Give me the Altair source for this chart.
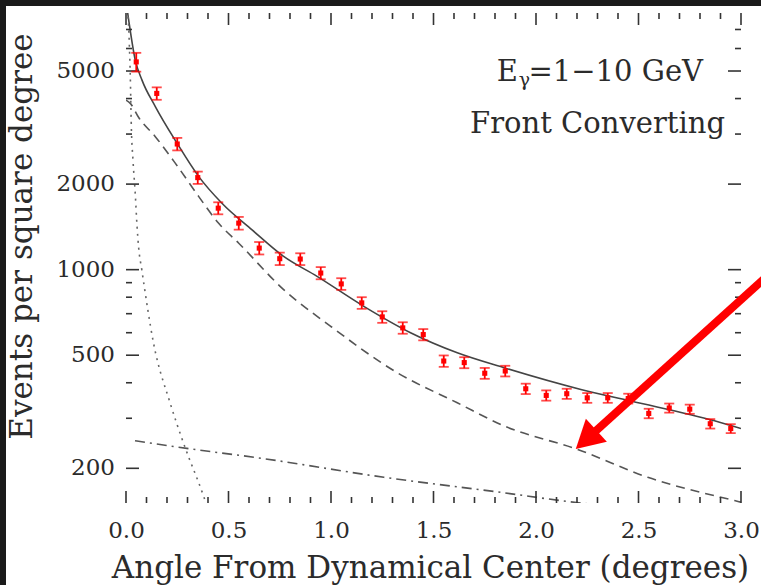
import altair as alt
import pandas as pd

# ---------------- data ----------------
pt_x = [0.05, 0.15, 0.25, 0.35, 0.45, 0.55, 0.65, 0.75, 0.85, 0.95,
        1.05, 1.15, 1.25, 1.35, 1.45, 1.55, 1.65, 1.75, 1.85, 1.95,
        2.05, 2.15, 2.25, 2.35, 2.45, 2.55, 2.65, 2.75, 2.85, 2.95]
pt_y = [5383, 4170, 2768, 2108, 1646, 1458, 1191, 1093, 1090, 973,
        891, 764, 682, 624, 591, 477, 471, 432, 440, 381,
        361, 366, 354, 354, 352, 312, 326, 323, 287, 276]
pt_err = [410, 210, 140, 105, 80, 75, 60, 55, 52, 48,
          42, 36, 32, 29, 27, 22, 21, 19, 19, 16,
          15, 15, 14, 14, 14, 12, 12, 12, 11, 10]

total_x = [0.005, 0.013, 0.045, 0.078, 0.143, 0.249, 0.355, 0.468, 0.615, 0.769,
           0.932, 1.16, 1.388, 1.616, 1.844, 2.219, 2.463, 2.871, 3.0]
total_y = [8300, 7570, 5470, 4645, 3750, 2786, 2125, 1713, 1380, 1113,
           947, 743, 600, 510, 452, 379, 345, 294, 276]

dash_x = [0.0, 0.021, 0.062, 0.143, 0.241, 0.355, 0.452, 0.55, 0.769, 0.997,
          1.323, 1.616, 1.844, 2.203, 2.545, 2.968, 3.0]
dash_y = [3950, 3846, 3430, 2938, 2366, 1807, 1456, 1239, 851, 633,
          434, 340, 282, 233, 186, 154, 152]

dot_x = [0.005, 0.013, 0.016, 0.021, 0.026, 0.034, 0.045, 0.054, 0.062, 0.077,
         0.134, 0.215, 0.28, 0.378, 0.39]
dot_y = [8200, 7160, 6270, 4775, 3186, 2433, 1857, 1416, 1189, 1000,
         553, 340, 246, 160, 151]

dashdot_x = [0.044, 0.297, 0.639, 1.258, 1.844, 2.15, 2.25]
dashdot_y = [250, 235, 218, 186, 164, 153, 150]

x_major = [0.0, 0.5, 1.0, 1.5, 2.0, 2.5, 3.0]
x_minor = [0.1, 0.2, 0.3, 0.4, 0.6, 0.7, 0.8, 0.9, 1.1, 1.2, 1.3, 1.4,
           1.6, 1.7, 1.8, 1.9, 2.1, 2.2, 2.3, 2.4, 2.6, 2.7, 2.8, 2.9]
y_major = [200, 500, 1000, 2000, 5000]
y_major_labels = ["200", "500", "1000", "2000", "5000"]
y_minor = [300, 400, 600, 700, 800, 900, 3000, 4000, 6000, 7000]

arrow_line_x = [3.15, 2.267]
arrow_line_y = [981, 261]
arrow_tip_x = [2.194]
arrow_tip_y = [234]

label_text = ["E", "\u03b3", "=1\u221210 GeV", "Front Converting"]

# ---------------- layout / style ----------------
W, H = 615, 490
FONT = "DejaVu Serif"
TXT = "#2b2b2b"
RED = "#ff0000"

xs = alt.Scale(domain=[0, 3], nice=False, zero=False)
ys = alt.Scale(type="log", domain=[151, 8000], nice=False)

x_axis = alt.Axis(values=x_major, format=".1f", ticks=False, tickSize=0, domain=False,
                  grid=False, labelFont=FONT, labelFontSize=23, labelColor=TXT,
                  labelFlush=False, labelOverlap=False, labelAlign="center",
                  labelBaseline="alphabetic", labelPadding=34,
                  title="Angle From Dynamical Center (degrees)",
                  titleFont=FONT, titleFontSize=31, titleFontWeight="normal",
                  titleColor=TXT, titleX=304, titleY=74, titleBaseline="alphabetic",
                  titleAnchor="middle", titleAlign="center", zindex=2)
y_axis = alt.Axis(values=y_major, labels=False, ticks=False, tickSize=0, domain=False,
                  grid=False,
                  title="Events per square degree",
                  titleFont=FONT, titleFontSize=31, titleFontWeight="normal",
                  titleColor=TXT, titleX=-88, titleY=223, titleAngle=270,
                  titleBaseline="bottom", titleAlign="center", zindex=2)


def X(field="x"):
    return alt.X(f"{field}:Q", scale=xs, axis=x_axis)


def Y(field="y"):
    return alt.Y(f"{field}:Q", scale=ys, axis=y_axis)


pts = pd.DataFrame({"x": pt_x, "y": pt_y, "e": pt_err})
pts["lo"] = pts["y"] - pts["e"]
pts["hi"] = pts["y"] + pts["e"]


def curve(xv, yv):
    return pd.DataFrame({"x": xv, "y": yv})


bg = alt.Chart(pd.DataFrame({"a": [0]})).mark_rect(color="white").encode(
    x=alt.value(-120), x2=alt.value(W + 20), y=alt.value(-7), y2=alt.value(H + 82))

line_total = alt.Chart(curve(total_x, total_y)).mark_line(
    color="#444", strokeWidth=1.6, interpolate="monotone", clip=True).encode(x=X(), y=Y())
line_dash = alt.Chart(curve(dash_x, dash_y)).mark_line(
    color="#555", strokeWidth=1.6, strokeDash=[9, 6], interpolate="monotone", clip=True
).encode(x=X(), y=Y())
line_dot = alt.Chart(curve(dot_x, dot_y)).mark_line(
    color="#666", strokeWidth=1.6, strokeDash=[2, 5], interpolate="monotone", clip=True
).encode(x=X(), y=Y())
line_dd = alt.Chart(curve(dashdot_x, dashdot_y)).mark_line(
    color="#555", strokeWidth=1.6, strokeDash=[10, 5, 2, 5], interpolate="monotone", clip=True
).encode(x=X(), y=Y())

err = alt.Chart(pts).mark_rule(color=RED, strokeWidth=1.8).encode(
    x=X(), y=Y("lo"), y2="hi:Q")
cap_lo = alt.Chart(pts).mark_tick(color=RED, orient="horizontal", size=10, thickness=1.8).encode(
    x=X(), y=Y("lo"))
cap_hi = alt.Chart(pts).mark_tick(color=RED, orient="horizontal", size=10, thickness=1.8).encode(
    x=X(), y=Y("hi"))
marks = alt.Chart(pts).mark_square(color=RED, size=26, opacity=1).encode(x=X(), y=Y())

xmaj = pd.DataFrame({"x": x_major})
xmin = pd.DataFrame({"x": x_minor})
ymaj = pd.DataFrame({"y": y_major, "lab": y_major_labels})
ymin = pd.DataFrame({"y": y_minor})
TK = dict(color="#333", strokeWidth=1.6)
ticks = [
    alt.Chart(xmaj).mark_rule(**TK).encode(x=X(), y=alt.value(H), y2=alt.value(H - 12)),
    alt.Chart(xmaj).mark_rule(**TK).encode(x=X(), y=alt.value(0), y2=alt.value(12)),
    alt.Chart(xmin).mark_rule(**TK).encode(x=X(), y=alt.value(H), y2=alt.value(H - 6)),
    alt.Chart(xmin).mark_rule(**TK).encode(x=X(), y=alt.value(0), y2=alt.value(6)),
    alt.Chart(ymaj).mark_rule(**TK).encode(y=Y(), x=alt.value(0), x2=alt.value(13)),
    alt.Chart(ymaj).mark_rule(**TK).encode(y=Y(), x=alt.value(W), x2=alt.value(W - 13)),
    alt.Chart(ymin).mark_rule(**TK).encode(y=Y(), x=alt.value(0), x2=alt.value(6)),
    alt.Chart(ymin).mark_rule(**TK).encode(y=Y(), x=alt.value(W), x2=alt.value(W - 6)),
]
y_labels = alt.Chart(ymaj).mark_text(
    font=FONT, fontSize=23, color=TXT, align="right", baseline="middle"
).encode(y=Y(), x=alt.value(-11), text="lab:N")

arrow_line = alt.Chart(pd.DataFrame({"x": [arrow_line_x[0]], "y": [arrow_line_y[0]],
                                     "x2": [arrow_line_x[1]], "y2": [arrow_line_y[1]]})
                       ).mark_rule(color=RED, strokeWidth=8, strokeCap="butt").encode(
    x=X(), y=Y(), x2="x2:Q", y2="y2:Q")
arrow_head = alt.Chart(pd.DataFrame({"x": arrow_tip_x, "y": arrow_tip_y})).mark_point(
    shape="M0,0L0.56,1L-0.56,1Z", filled=True, color=RED, opacity=1, size=3100,
    angle=227.7, strokeWidth=0).encode(x=X(), y=Y())

TXTK = dict(font=FONT, color=TXT, baseline="alphabetic")
t_e = alt.Chart(pd.DataFrame({"t": [label_text[0]]})).mark_text(
    align="right", fontSize=29, **TXTK).encode(text="t:N", x=alt.value(392), y=alt.value(68))
t_g = alt.Chart(pd.DataFrame({"t": [label_text[1]]})).mark_text(
    align="right", fontSize=19, **TXTK).encode(text="t:N", x=alt.value(404), y=alt.value(73))
t_r = alt.Chart(pd.DataFrame({"t": [label_text[2]]})).mark_text(
    align="right", fontSize=29, **TXTK).encode(text="t:N", x=alt.value(577), y=alt.value(68))
t_f = alt.Chart(pd.DataFrame({"t": [label_text[3]]})).mark_text(
    align="right", fontSize=29, **TXTK).encode(text="t:N", x=alt.value(599), y=alt.value(120))

chart = alt.layer(
    bg, line_total, line_dash, line_dot, line_dd, *ticks, y_labels,
    err, cap_lo, cap_hi, marks, t_e, t_g, t_r, t_f, arrow_line, arrow_head
).properties(
    width=W, height=H,
    autosize=alt.AutoSizeParams(type="none"),
    padding={"left": 126, "top": 13, "right": 20, "bottom": 82},
    background="#1a1a1a",
).configure_view(stroke="#333", strokeWidth=2)

chart.save("out.html", embed_options={"renderer": "svg", "actions": False})
